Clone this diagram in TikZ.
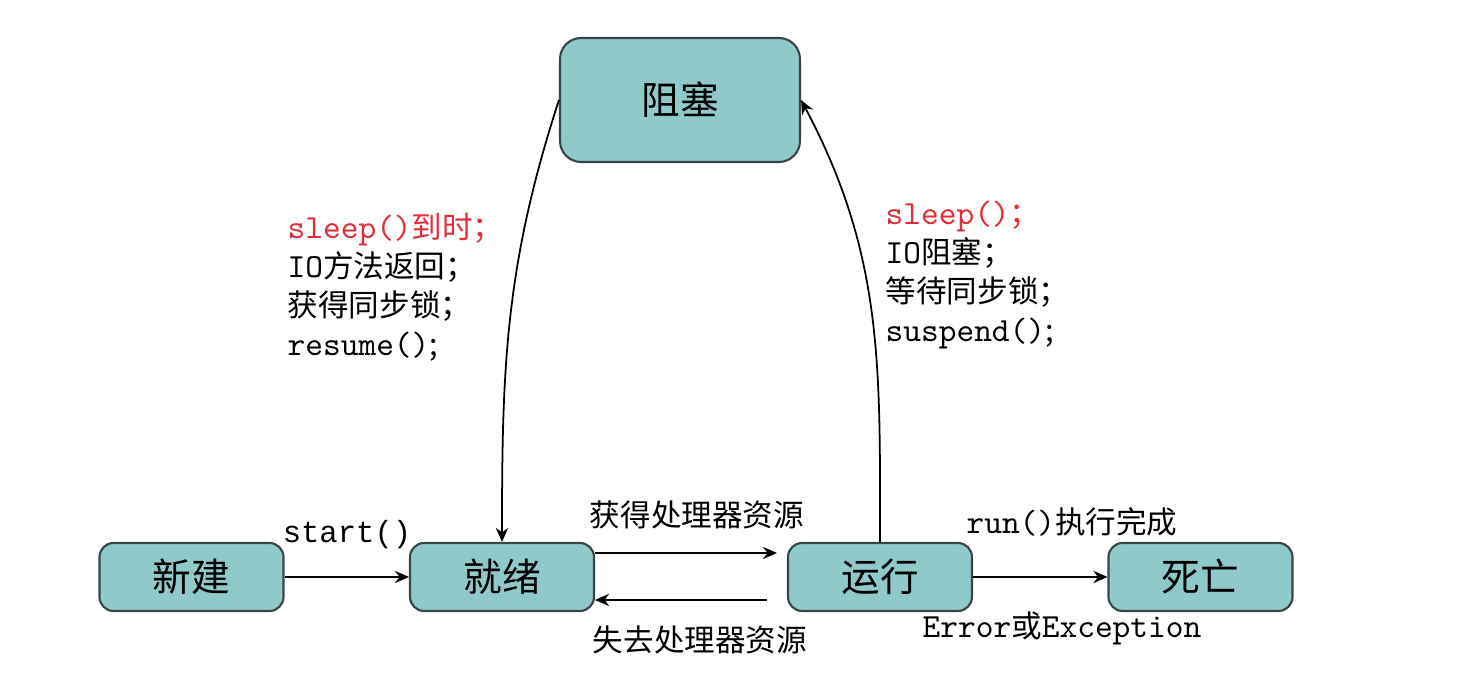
\documentclass[tikz,border=0pt]{standalone}
\usepackage{fontspec}
\setmainfont{Noto Sans CJK SC}
\newfontfamily\codefont{Liberation Mono}
\newcommand\cf[1]{{\ttfamily\fontsize{9.6}{11.1}\selectfont #1}}
\usetikzlibrary{arrows.meta}
\definecolor{boxteal}{RGB}{143,201,201}
\definecolor{boxline}{RGB}{55,70,70}
\definecolor{labred}{RGB}{225,45,55}

\begin{document}
\begin{tikzpicture}[x=1cm,y=1cm,
  state/.style={draw=boxline,line width=0.6pt,fill=boxteal,rounded corners=4pt,
    minimum width=1.84cm,minimum height=0.68cm,font=\fontsize{11}{13}\selectfont},
  lab/.style={inner sep=0pt,font=\fontsize{8.7}{11.1}\selectfont},
  >={Stealth[length=4pt,width=3.5pt]}]
\useasboundingbox (0,0) rectangle (14.66,6.96);
% states
\node[state,minimum width=2.4cm,minimum height=1.24cm,rounded corners=6pt] (block) at (6.80,5.96) {阻塞};
\node[state] (new) at (1.915,1.19) {新建};
\node[state] (ready) at (5.02,1.19) {就绪};
\node[state] (run) at (8.80,1.19) {运行};
\node[state] (dead) at (12.005,1.19) {死亡};
% transitions
\draw[->,line width=0.5pt] (new) -- (ready);
\draw[->,line width=0.5pt] ([yshift=0.24cm]ready.east) -- ([yshift=0.24cm,xshift=-0.1cm]run.west);
\draw[->,line width=0.5pt] ([yshift=-0.23cm,xshift=-0.2cm]run.west) -- ([yshift=-0.23cm]ready.east);
\draw[->,line width=0.5pt] (run) -- (dead);
\draw[->,line width=0.5pt] (block.west) to[out=252,in=90] (ready.north);
\draw[->,line width=0.5pt] (run.north) to[out=90,in=298] (block.east);
% labels
\node[lab] (lstart) at (3.47,1.61) {\codefont start()};
\node[lab] (lget) at (6.97,1.81) {获得处理器资源};
\node[lab] (llose) at (7.00,0.56) {失去处理器资源};
\node[lab] (ldone) at (10.72,1.74) {\cf{run()}执行完成};
\node[lab] (lerr) at (10.62,0.68) {\cf{Error}或\cf{Exception}};
\node[lab,anchor=west,align=left] (lwake) at (2.87,4.09)
  {\textcolor{labred}{\cf{sleep()}到时；}\\\cf{IO}方法返回；\\获得同步锁；\\\cf{resume()};};
\node[lab,anchor=west,align=left] (lwait) at (8.85,4.205)
  {\textcolor{labred}{\cf{sleep()}；}\\\cf{IO}阻塞；\\等待同步锁；\\\cf{suspend()};};
\end{tikzpicture}
\end{document}
